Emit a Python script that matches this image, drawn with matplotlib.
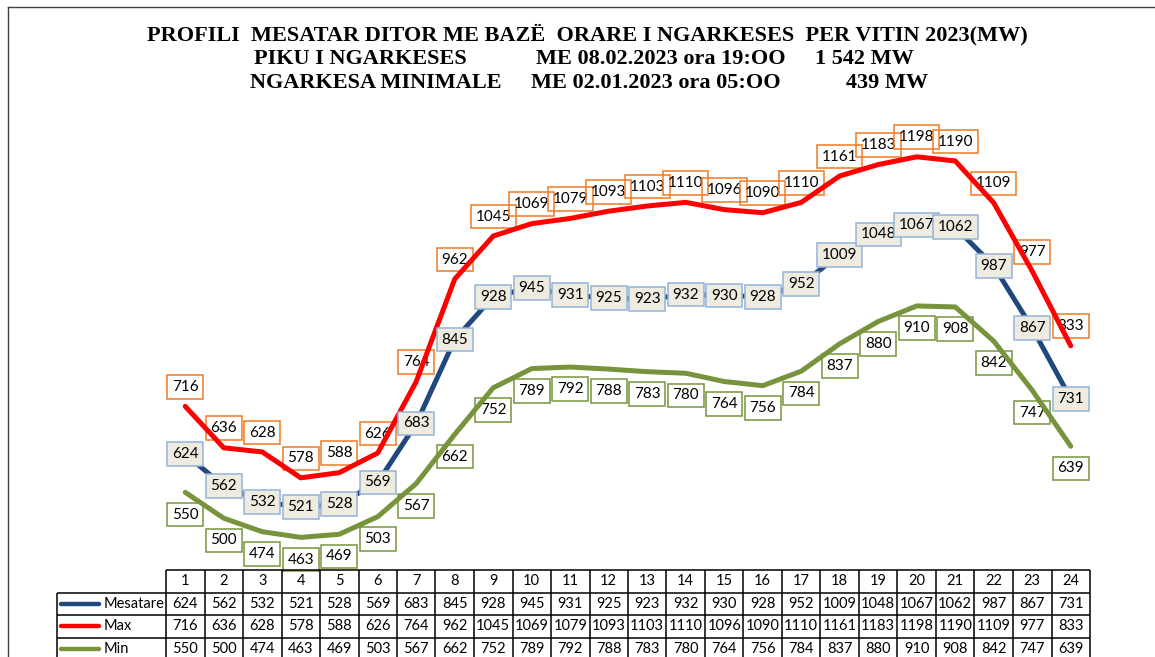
import matplotlib.pyplot as plt
from matplotlib.lines import Line2D
import numpy as np

# ---- data ----
hours = list(range(1, 25))
mesatare = [624, 562, 532, 521, 528, 569, 683, 845, 928, 945, 931, 925,
            923, 932, 930, 928, 952, 1009, 1048, 1067, 1062, 987, 867, 731]
maks = [716, 636, 628, 578, 588, 626, 764, 962, 1045, 1069, 1079, 1093,
        1103, 1110, 1096, 1090, 1110, 1161, 1183, 1198, 1190, 1109, 977, 833]
minimum = [550, 500, 474, 463, 469, 503, 567, 662, 752, 789, 792, 788,
           783, 780, 764, 756, 784, 837, 880, 910, 908, 842, 747, 639]
series_names = ["Mesatare", "Max", "Min"]

title_1 = "PROFILI  MESATAR DITOR ME BAZË  ORARE I NGARKESES  PER VITIN 2023(MW)"
title_2 = ["PIKU I NGARKESES", "ME 08.02.2023 ora 19:OO", "1 542 MW"]
title_3 = ["NGARKESA MINIMALE", "ME 02.01.2023 ora 05:OO", "439 MW"]

# ---- style ----
W, H = 1155, 657
c_avg, c_max, c_min = "#1F497D", "#FF0000", "#77933C"
lbl_font = "Lato"
serif = "Liberation Serif"

fig = plt.figure(figsize=(W / 100, H / 100), dpi=100)

def fx(px):
    return px / W

def fy(py):
    return 1 - py / H

# outer frame (left and top edges visible)
fig.add_artist(Line2D([fx(8), fx(W + 5)], [fy(7), fy(7)], color="#404040", lw=1))
fig.add_artist(Line2D([fx(8), fx(8)], [fy(7), fy(H + 5)], color="#404040", lw=1))

# titles
fig.text(fx(587), fy(35), title_1, ha="center", va="center", family=serif,
         weight="bold", fontsize=16)
for txt, x in zip(title_2, [254, 536, 815]):
    fig.text(fx(x), fy(59), txt, ha="left", va="center", family=serif,
             weight="bold", fontsize=16)
for txt, x in zip(title_3, [250, 531, 846]):
    fig.text(fx(x), fy(83), txt, ha="left", va="center", family=serif,
             weight="bold", fontsize=16)

# ---- main chart ----
ax = fig.add_axes([fx(166), 1 - 570 / H, 924 / W, 466 / H])
ax.set_xlim(0.5, 24.5)
ax.set_ylim(400, 1300)
ax.axis("off")

ax.plot(hours, maks, color=c_max, lw=3.6, solid_capstyle="round", zorder=3)
ax.plot(hours, mesatare, color=c_avg, lw=3.6, solid_capstyle="round", zorder=3)
ax.plot(hours, minimum, color=c_min, lw=3.6, solid_capstyle="round", zorder=3)

box_pad = "square,pad=0.32"
for h, v in zip(hours, maks):
    ax.annotate(str(v), (h, v), xytext=(0, 14), textcoords="offset points",
                ha="center", va="center", family=lbl_font, fontsize=11, zorder=2,
                bbox=dict(boxstyle=box_pad, fc="none", ec="#F07A22", lw=1.1))
for h, v in zip(hours, mesatare):
    ax.annotate(str(v), (h, v), xytext=(0, 0), textcoords="offset points",
                ha="center", va="center", family=lbl_font, fontsize=11, zorder=4,
                bbox=dict(boxstyle=box_pad, fc="#EEECE1", ec="#95B3D7", lw=1.1))
for h, v in zip(hours, minimum):
    ax.annotate(str(v), (h, v), xytext=(0, -16), textcoords="offset points",
                ha="center", va="center", family=lbl_font, fontsize=11, zorder=2,
                bbox=dict(boxstyle=box_pad, fc="none", ec=c_min, lw=1.1))

# ---- data table ----
x_left = 0.5 - (166 - 57) / 38.5
tax = fig.add_axes([fx(57), 1 - 660 / H, (1090 - 57) / W, 90 / H])
tax.set_xlim(x_left, 24.5)
tax.set_ylim(4, 0)
tax.axis("off")

kw = dict(color="black", lw=1.1, clip_on=False)
tax.hlines(0, 0.5, 24.5, **kw)
tax.hlines([1, 2, 3, 4], x_left, 24.5, **kw)
tax.vlines(np.arange(0.5, 25.5, 1), 0, 4, **kw)
tax.vlines(x_left, 1, 4, **kw)

for h in hours:
    tax.text(h, 0.5, str(h), ha="center", va="center", family=lbl_font, fontsize=10.5)

rows = [mesatare, maks, minimum]
colors = [c_avg, c_max, c_min]
for r, (name, vals, col) in enumerate(zip(series_names, rows, colors)):
    y = r + 1.5
    tax.plot([x_left + 0.1, x_left + 1.1], [y, y], color=col, lw=3.2,
             solid_capstyle="round", clip_on=False)
    tax.text(x_left + 1.2, y, name, ha="left", va="center", family=lbl_font, fontsize=10.5)
    for h, v in zip(hours, vals):
        tax.text(h, y, str(v), ha="center", va="center", family=lbl_font, fontsize=10.5)

fig.savefig("out.png", dpi=100)
